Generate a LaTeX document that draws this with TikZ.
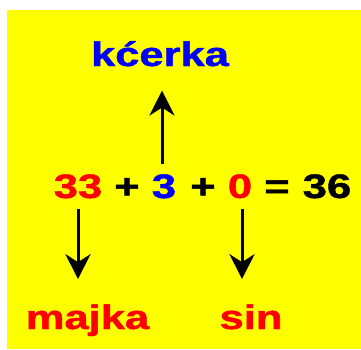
\documentclass[tikz,border=0pt]{standalone}
\usepackage{fontspec}
\setmainfont{Liberation Sans}[BoldFeatures={FakeBold=1.2}]
\usepackage{xcolor}
\usetikzlibrary{arrows.meta,positioning}
\definecolor{bgyellow}{HTML}{FFFF00}
\definecolor{wordblue}{HTML}{0000FF}
\definecolor{wordred}{HTML}{FF0000}

\begin{document}
\begin{tikzpicture}[
  x=1pt,
  y=-1pt,
  word/.style={font=\fontsize{34}{36}\selectfont\bfseries, inner sep=0pt, anchor=base, xscale=1.28, transform shape},
  pointer/.style={-{Stealth[length=25pt, width=25pt, inset=8pt]}, line width=3pt}
]
\useasboundingbox (0,0) rectangle (361,349);
\fill[bgyellow] (7,10) rectangle (361,349);

\node[word, text=wordblue] (kcerka) at (160,66) {kćerka};
\node[word, text=wordred] (n33) at (78,198) {33};
\node[word] (plus1) at (127,198) {+};
\node[word, text=wordblue] (n3) at (164,198) {3};
\node[word] (plus2) at (203,198) {+};
\node[word, text=wordred] (n0) at (240,198) {0};
\node[word] (eq) at (277,198) {=};
\node[word] (n36) at (327,198) {36};
\node[word, text=wordred] (majka) at (87.5,329) {majka};
\node[word, text=wordred] (sin) at (251,329) {sin};

\draw[pointer, shorten <=10pt, shorten >=24pt] ([xshift=-2pt]n3.north) -- ([xshift=-2pt]n3.north |- kcerka.south);
\draw[pointer, shorten <=10pt, shorten >=25pt] (n33.south) -- (n33.south |- majka.north);
\draw[pointer, shorten <=10pt, shorten >=25pt] ([xshift=2pt]n0.south) -- ([xshift=2pt]n0.south |- sin.north);
\end{tikzpicture}
\end{document}
